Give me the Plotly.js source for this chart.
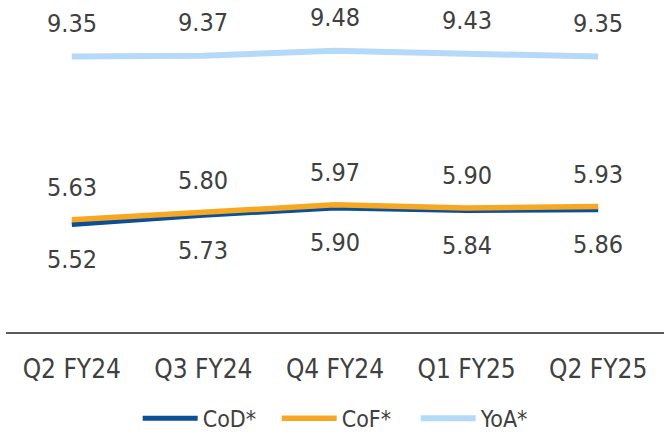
<!DOCTYPE html>
<html>
<head>
<meta charset="utf-8">
<script src="https://cdn.plot.ly/plotly-3.0.1.min.js"></script>
<style>html,body{margin:0;padding:0;background:#fff;}#chart{width:664px;height:434px;}</style>
</head>
<body>
<div id="chart"></div>
<script>
const categories = ["Q2 FY24", "Q3 FY24", "Q4 FY24", "Q1 FY25", "Q2 FY25"];
const cod = [5.52, 5.73, 5.90, 5.84, 5.86];
const cof = [5.63, 5.80, 5.97, 5.90, 5.93];
const yoa = [9.35, 9.37, 9.48, 9.43, 9.35];
const seriesNames = ["CoD*", "CoF*", "YoA*"];

const FONT = "'DejaVu Sans Condensed', 'DejaVu Sans', sans-serif";
const TXT = "#404040";
const colors = {cod: "#0B4F96", cof: "#F7A823", yoa: "#B5D9F9"};

const traces = [
  {x: categories, y: cod, name: seriesNames[0], type: "scatter", mode: "lines",
   line: {color: colors.cod, width: 5}},
  {x: categories, y: cof, name: seriesNames[1], type: "scatter", mode: "lines",
   line: {color: colors.cof, width: 5.5}},
  {x: categories, y: yoa, name: seriesNames[2], type: "scatter", mode: "lines",
   line: {color: colors.yoa, width: 6}}
];

const annotations = [];
function addLabels(vals, shift) {
  vals.forEach((v, i) => {
    annotations.push({x: categories[i], y: v, xref: "x", yref: "y", text: v.toFixed(2),
      showarrow: false, yshift: shift, font: {family: FONT, size: 25, color: TXT}});
  });
}
addLabels(yoa, 33);
addLabels(cof, 32);
addLabels(cod, -35);

const layout = {
  width: 664, height: 434,
  margin: {l: 6, r: 0, t: 0, b: 102, autoexpand: false},
  paper_bgcolor: "#fff", plot_bgcolor: "#fff",
  showlegend: true,
  legend: {orientation: "h", x: 0.517, xanchor: "center", y: -0.26, yanchor: "middle",
    font: {family: FONT, size: 23, color: TXT}, itemwidth: 55, tracegroupgap: 0,
    entrywidth: 69, entrywidthmode: "pixels"},
  xaxis: {type: "category", range: [-0.5, 4.5], showgrid: false, zeroline: false,
    showline: true, linecolor: "#5a5a5a", linewidth: 2, ticks: "",
    ticklabelstandoff: 13,
    tickfont: {family: FONT, size: 26, color: TXT}},
  yaxis: {range: [3.07, 10.64], visible: false, showgrid: false, zeroline: false, fixedrange: true},
  annotations: annotations
};

Plotly.newPlot("chart", traces, layout, {displayModeBar: false, staticPlot: true});
</script>
</body>
</html>
